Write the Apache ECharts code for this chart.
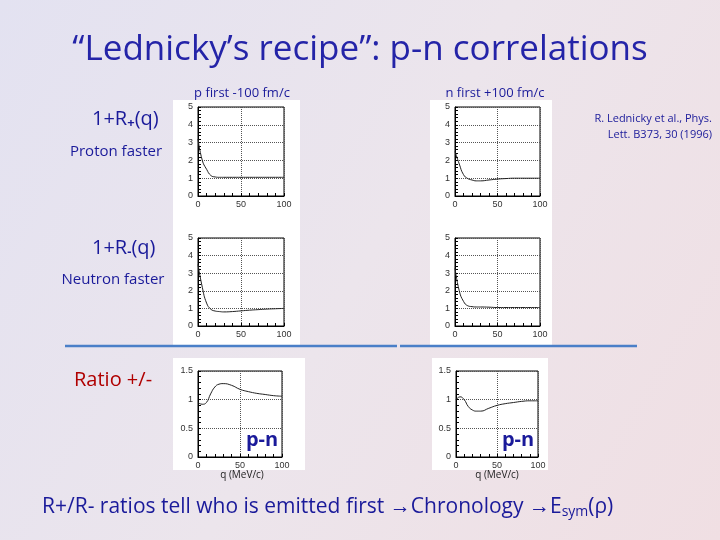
<!DOCTYPE html><html><head><meta charset="utf-8">
<script src="https://cdn.jsdelivr.net/npm/echarts@6/dist/echarts.min.js"></script>
<style>html,body{margin:0;padding:0}body{width:720px;height:540px;background:linear-gradient(120deg,#e3e2f1 0%,#ece5ec 50%,#f0dfe3 100%)}#c{width:720px;height:540px}</style>
</head><body><div id="c"></div><script>
var qValues=[0,5,10,15,20,25,30,40,50,60,70,80,90,100];
var rPlusPFirst=[3.2,2.0,1.5,1.15,1.07,1.05,1.05,1.05,1.05,1.05,1.05,1.05,1.05,1.05];
var rMinusPFirst=[3.5,2.2,1.3,0.95,0.85,0.82,0.8,0.82,0.86,0.9,0.93,0.96,0.98,1.0];
var rPlusNFirst=[2.5,1.8,1.2,0.98,0.9,0.85,0.85,0.9,0.95,0.98,1.0,1.0,1.0,1.0];
var rMinusNFirst=[3.3,2.0,1.4,1.15,1.1,1.08,1.08,1.07,1.05,1.05,1.05,1.05,1.05,1.05];
var ratioPFirst=[0.95,0.92,0.95,1.1,1.22,1.27,1.28,1.25,1.18,1.14,1.11,1.09,1.07,1.06];
var ratioNFirst=[1.0,1.05,1.0,0.88,0.82,0.8,0.8,0.85,0.9,0.93,0.95,0.97,0.98,0.98];
var ch=echarts.init(document.getElementById('c'));
var grids=[[198,107,86,89],[198,238,86,88],[455,107,85,89],[455,238,85,88],[198,371,84,86],[456,371,82,86]];
var sets=[rPlusPFirst,rMinusPFirst,rPlusNFirst,rMinusNFirst,ratioPFirst,ratioNFirst];
var opt={animation:false,grid:[],xAxis:[],yAxis:[],series:[],graphic:[]};
[[173,100,127,245],[430,100,122,245],[173,358,132,112],[432,358,116,112]].forEach(function(r){opt.graphic.push({type:'rect',shape:{x:r[0],y:r[1],width:r[2],height:r[3]},style:{fill:'#fff'},z:-10});});
grids.forEach(function(g,i){
 var ratio=i>=4;
 opt.grid.push({left:g[0],top:g[1],width:g[2],height:g[3],show:true,borderColor:'#000',borderWidth:1,backgroundColor:'transparent'});
 opt.xAxis.push({gridIndex:i,type:'value',min:0,max:100,interval:50,axisLine:{lineStyle:{color:'#000'}},axisTick:{show:true,inside:true,length:3},minorTick:{show:true,splitNumber:5},axisLabel:{fontSize:9,color:'#333',margin:4},splitLine:{show:true,lineStyle:{type:'dotted',color:'#555'}}});
 opt.yAxis.push({gridIndex:i,type:'value',min:0,max:ratio?1.5:5,interval:ratio?0.5:1,axisLine:{show:true,lineStyle:{color:'#000'}},axisTick:{show:true,inside:true,length:3},minorTick:{show:true,splitNumber:5},axisLabel:{fontSize:9,color:'#333',margin:5},splitLine:{show:true,lineStyle:{type:'dotted',color:'#555'}}});
 opt.series.push({type:'line',xAxisIndex:i,yAxisIndex:i,smooth:true,symbol:'none',lineStyle:{color:'#222',width:1},data:qValues.map(function(q,k){return [q,sets[i][k]];})});
});
function t(x,y,s,o){o=o||{};opt.graphic.push({type:'text',x:x,y:y,style:Object.assign({text:s,fill:'#1a1a9a',font:(o.f||'15px "Open Sans"'),textAlign:o.a||'left',textVerticalAlign:'middle'},o.st||{})});}
t(360,50,'\u201cLednicky\u2019s recipe\u201d: p-n correlations',{f:'35px "Open Sans"',a:'center',st:{fill:'#2424a8'}});
t(242,93,'p first -100 fm/c',{f:'13px "Open Sans"',a:'center'});
t(495,93,'n first +100 fm/c',{f:'13px "Open Sans"',a:'center'});
opt.graphic.push({type:'text',x:92,y:119,style:{rich:{a:{fill:'#1a1a9a',font:'20px "Open Sans"'},s:{fill:'#1a1a9a',font:'bold 13px "Open Sans"',padding:[8,0,0,0]}},text:'{a|1+R}{s|+}{a|(q)}',textVerticalAlign:'middle'}});
opt.graphic.push({type:'text',x:92,y:248,style:{rich:{a:{fill:'#1a1a9a',font:'20px "Open Sans"'},s:{fill:'#1a1a9a',font:'bold 13px "Open Sans"',padding:[8,0,0,0]}},text:'{a|1+R}{s|-}{a|(q)}',textVerticalAlign:'middle'}});
t(116,152,'Proton faster',{a:'center'});
t(113,280,'Neutron faster',{a:'center'});
t(712,119,'R. Lednicky et al., Phys.',{f:'11px "Open Sans"',a:'right'});
t(712,135,'Lett. B373, 30 (1996)',{f:'11px "Open Sans"',a:'right'});
t(74,380,'Ratio +/-',{f:'20px "Open Sans"',st:{fill:'#b00000'}});
t(262,440,'p-n',{f:'bold 20px "Open Sans"',a:'center',st:{fill:'#1a1a9a'}});
t(518,440,'p-n',{f:'bold 20px "Open Sans"',a:'center',st:{fill:'#1a1a9a'}});
t(242,475,'q (MeV/c)',{f:'10px "Open Sans"',a:'center',st:{fill:'#222'}});
t(497,475,'q (MeV/c)',{f:'10px "Open Sans"',a:'center',st:{fill:'#222'}});
opt.graphic.push({type:'text',x:42,y:507,style:{rich:{a:{fill:'#1a1a9a',font:'21px "Open Sans"'},s:{fill:'#1a1a9a',font:'14px "Open Sans"',padding:[10,0,0,0]}},text:'{a|R+/R- ratios tell who is emitted first \u2192Chronology \u2192E}{s|sym}{a|(\u03c1)}',textVerticalAlign:'middle'}});
opt.graphic.push({type:'line',shape:{x1:65,y1:346,x2:397,y2:346},style:{stroke:'#4a7fc8',lineWidth:2.5}});
opt.graphic.push({type:'line',shape:{x1:400,y1:346,x2:637,y2:346},style:{stroke:'#4a7fc8',lineWidth:2.5}});
ch.setOption(opt);
</script></body></html>
